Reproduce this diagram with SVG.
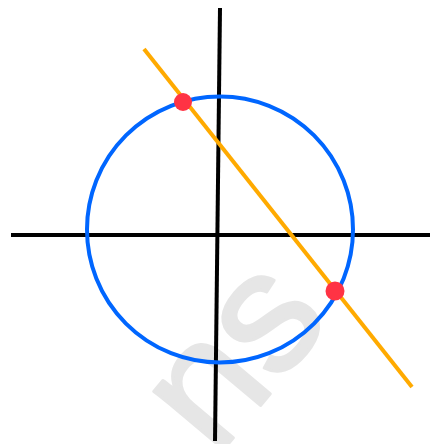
<svg xmlns="http://www.w3.org/2000/svg" width="430" height="444" viewBox="0 0 430 444">
<style>
.axis{stroke:#000;stroke-width:4;fill:none}
.wm{font-family:"Liberation Sans",Arial,sans-serif;fill:#e6e6e6;stroke:#e6e6e6;stroke-width:3;stroke-linejoin:round}
</style>
<rect width="430" height="444" fill="#fff"/>
<g id="watermark">
<text class="wm" transform="translate(240,360) rotate(-50)" x="0" y="45" font-size="172" text-anchor="middle">ns</text>
</g>
<g id="connectors">
<line class="axis" x1="11" y1="235" x2="430" y2="235"/>
<line class="axis" x1="220" y1="8" x2="215" y2="441"/>
</g>
<g id="circle">
<circle cx="220" cy="229.5" r="133" fill="none" stroke="#0066ff" stroke-width="4"/>
</g>
<g id="line">
<line x1="144" y1="49" x2="412" y2="387" stroke="#ffaa00" stroke-width="4"/>
</g>
<g id="points">
<circle cx="183" cy="102" r="9" fill="#ff3344"/>
<circle cx="335" cy="291" r="9.5" fill="#ff3344"/>
</g>
</svg>
